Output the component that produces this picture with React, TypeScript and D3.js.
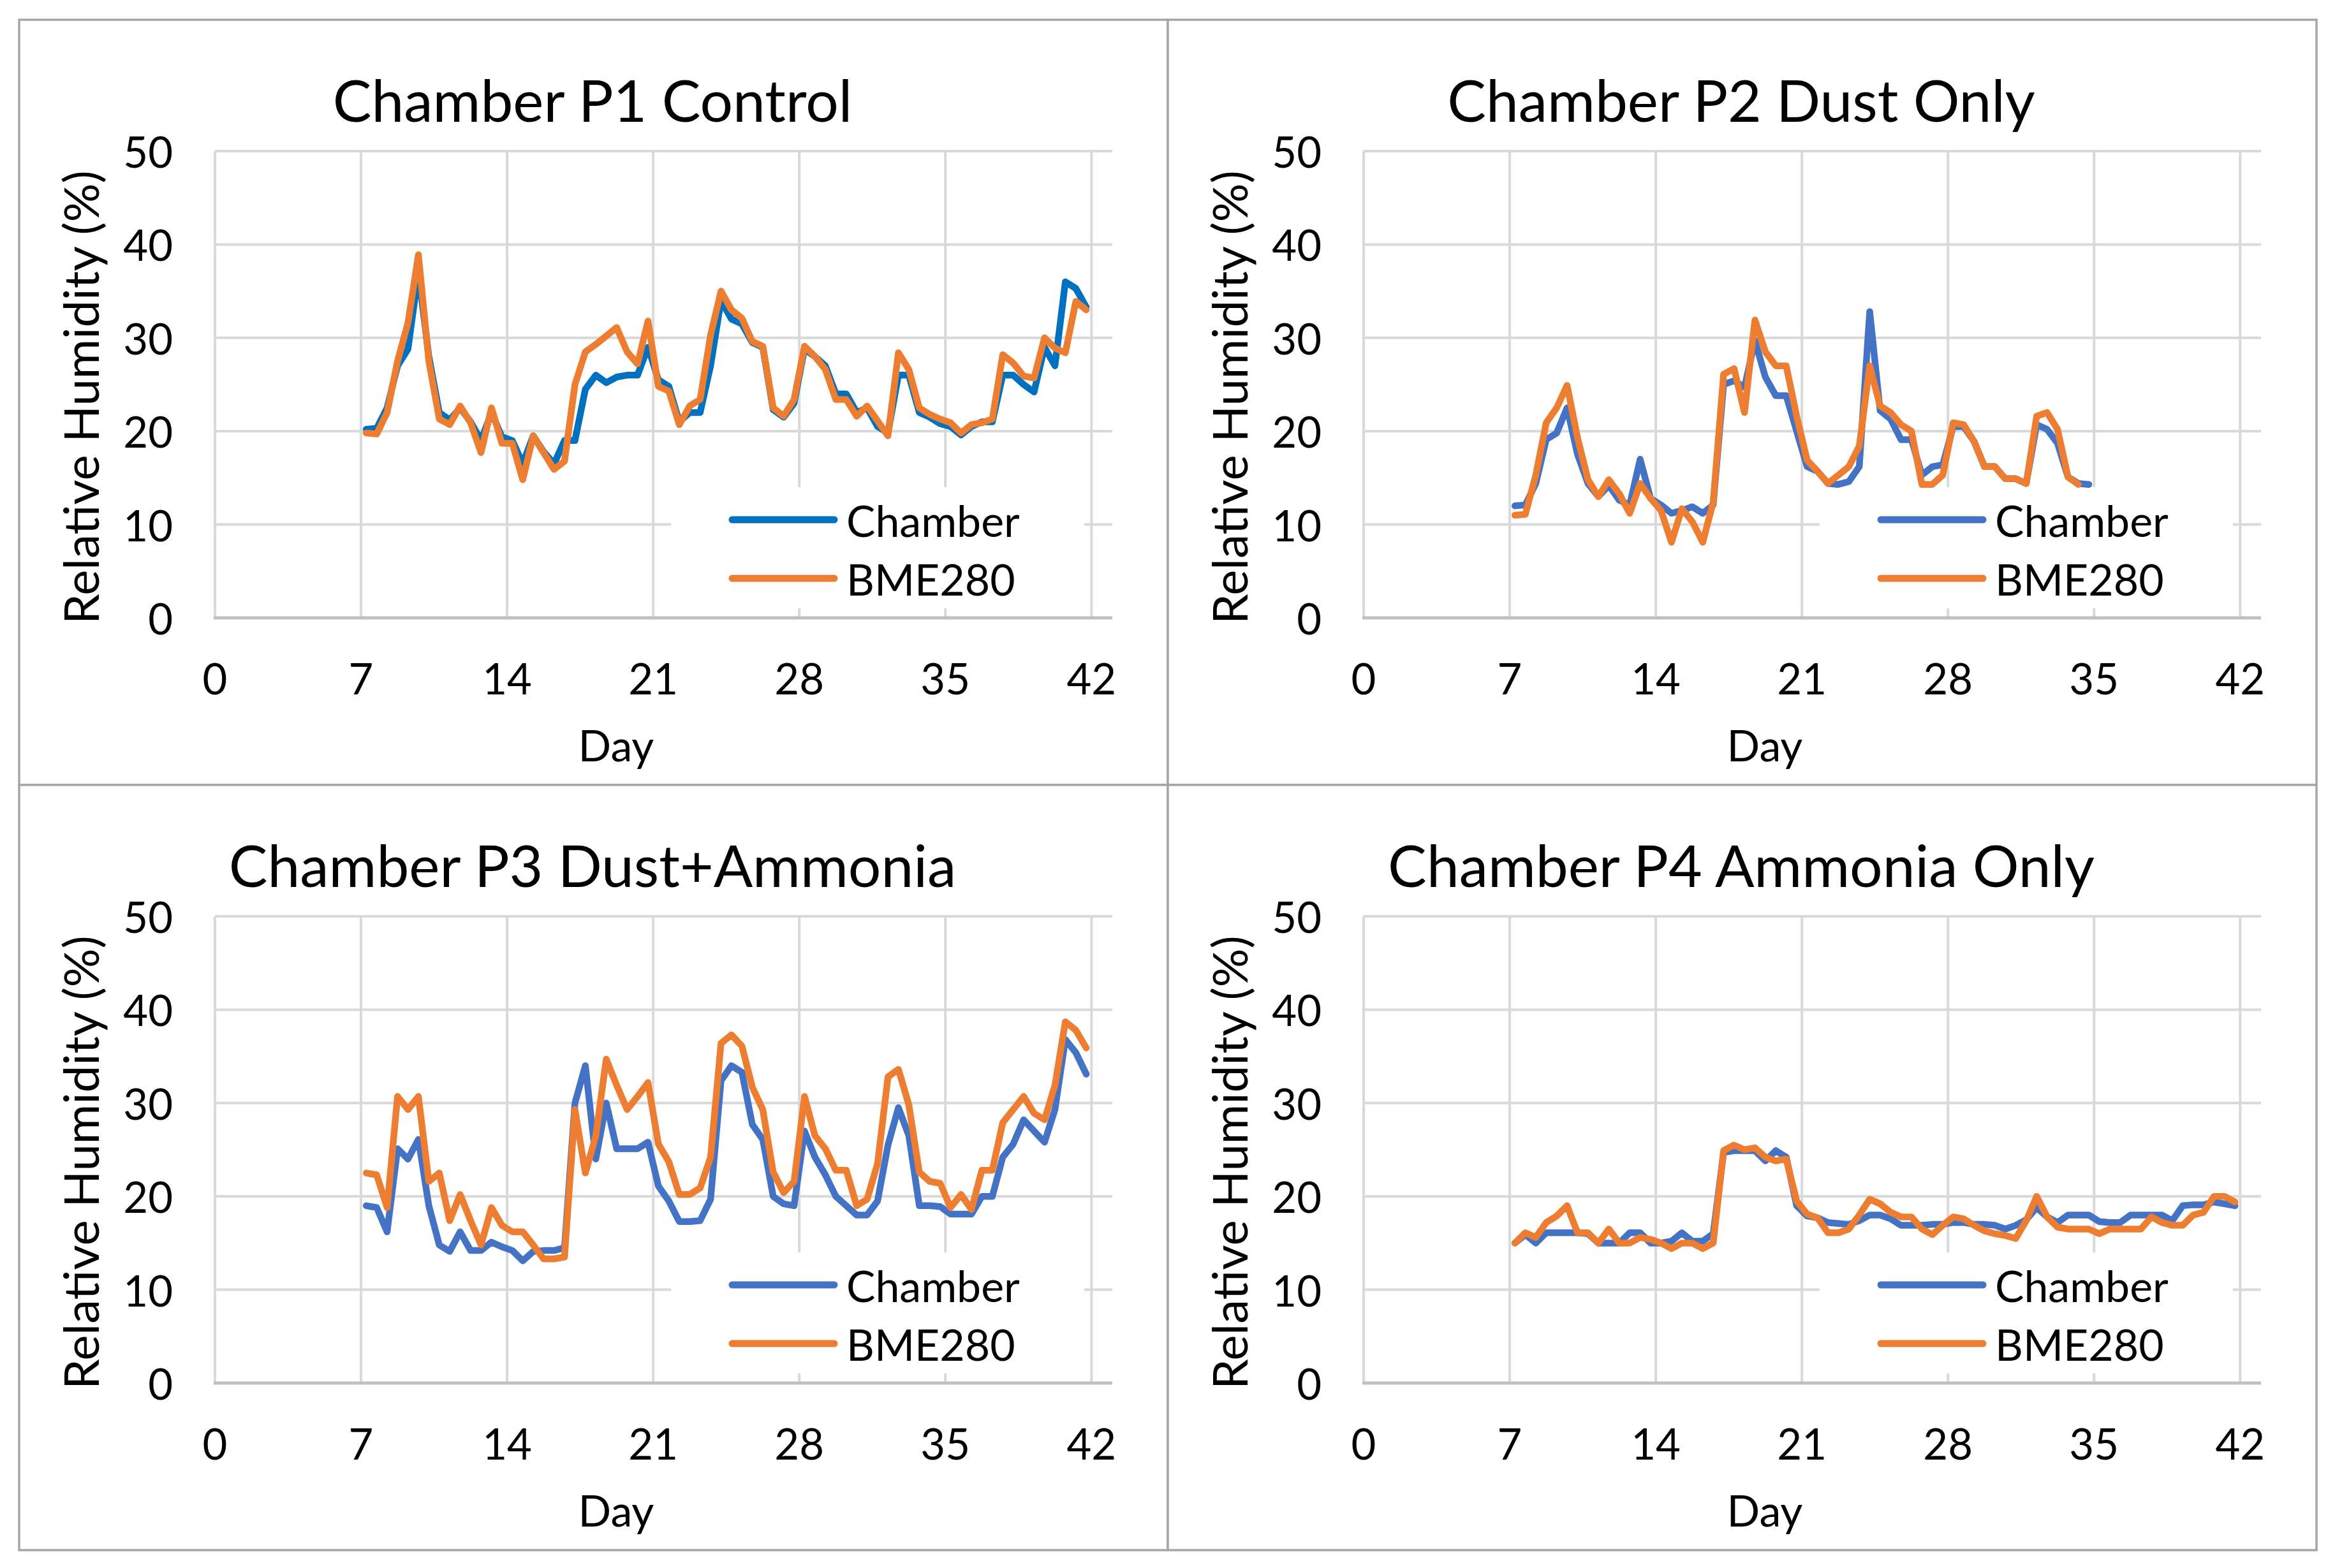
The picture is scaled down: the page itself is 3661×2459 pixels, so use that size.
import { useEffect, useRef } from 'react';
import * as d3 from 'd3';

// sample times (days), every 12 h
const days = [
  7.25, 7.75, 8.25, 8.75, 9.25, 9.75, 10.25, 10.75, 11.25, 11.75,
  12.25, 12.75, 13.25, 13.75, 14.25, 14.75, 15.25, 15.75, 16.25, 16.75,
  17.25, 17.75, 18.25, 18.75, 19.25, 19.75, 20.25, 20.75, 21.25, 21.75,
  22.25, 22.75, 23.25, 23.75, 24.25, 24.75, 25.25, 25.75, 26.25, 26.75,
  27.25, 27.75, 28.25, 28.75, 29.25, 29.75, 30.25, 30.75, 31.25, 31.75,
  32.25, 32.75, 33.25, 33.75, 34.25, 34.75, 35.25, 35.75, 36.25, 36.75,
  37.25, 37.75, 38.25, 38.75, 39.25, 39.75, 40.25, 40.75, 41.25, 41.75,
];

const p1Chamber = [
  20.2, 20.3, 22.5, 27.0, 28.8, 37.0, 28.0, 22.0, 21.2, 22.5,
  21.0, 19.0, 22.0, 19.4, 19.0, 16.5, 19.5, 17.8, 16.5, 19.0,
  19.0, 24.5, 26.0, 25.2, 25.8, 26.0, 26.0, 29.0, 25.5, 24.8,
  21.0, 22.0, 22.0, 27.0, 34.0, 32.0, 31.5, 29.5, 29.0, 22.3,
  21.5, 23.0, 28.8, 28.0, 27.0, 24.0, 24.0, 22.0, 22.5, 20.5,
  19.8, 26.0, 26.0, 22.0, 21.5, 20.8, 20.5, 19.6, 20.5, 21.0,
  21.0, 26.0, 26.0, 25.0, 24.2, 29.0, 27.0, 36.0, 35.3, 33.3,
];
const p1Bme = [
  19.8, 19.7, 22.0, 27.5, 31.6, 38.9, 27.5, 21.3, 20.7, 22.7,
  20.9, 17.7, 22.5, 18.7, 18.7, 14.8, 19.5, 17.7, 15.9, 16.8,
  25.0, 28.5, 29.3, 30.2, 31.1, 28.5, 27.2, 31.8, 24.8, 24.3,
  20.7, 22.7, 23.4, 30.3, 35.0, 33.0, 32.1, 29.6, 29.1, 22.5,
  21.6, 23.4, 29.1, 28.0, 26.6, 23.4, 23.4, 21.6, 22.7, 21.1,
  19.5, 28.4, 26.6, 22.5, 21.8, 21.3, 20.9, 19.8, 20.7, 20.9,
  21.3, 28.2, 27.3, 25.9, 25.7, 30.0, 28.9, 28.4, 33.9, 33.0,
];

const p2Chamber = [
  12.0, 12.1, 14.4, 19.1, 19.8, 22.5, 17.5, 14.4, 13.0, 14.2,
  12.6, 12.1, 17.0, 12.8, 12.1, 11.2, 11.5, 11.9, 11.2, 12.1,
  25.0, 25.4, 24.7, 29.7, 25.8, 23.8, 23.8, 20.0, 16.2, 15.7,
  14.4, 14.3, 14.6, 16.2, 32.8, 22.2, 21.3, 19.1, 19.1, 15.3,
  16.2, 16.4, 20.5, 20.5, 18.9, 16.2, 16.2, 14.9, 14.9, 14.4,
  20.7, 20.2, 18.7, 15.1, 14.4, 14.3,
];
const p2Bme = [
  11.0, 11.1, 15.3, 20.9, 22.5, 24.9, 19.3, 14.8, 13.0, 14.8,
  13.3, 11.2, 14.4, 12.8, 11.5, 8.1, 11.7, 10.3, 8.1, 12.4,
  26.1, 26.7, 22.0, 31.9, 28.5, 27.0, 27.0, 21.6, 16.9, 15.7,
  14.4, 15.3, 16.2, 18.4, 27.0, 22.7, 22.0, 20.7, 20.0, 14.3,
  14.3, 15.3, 20.9, 20.7, 18.9, 16.2, 16.2, 14.9, 14.9, 14.4,
  21.6, 22.0, 20.2, 15.1, 14.3,
];

const p3Chamber = [
  19.0, 18.8, 16.2, 25.1, 24.0, 26.1, 19.0, 14.8, 14.1, 16.2,
  14.2, 14.2, 15.1, 14.6, 14.2, 13.1, 14.1, 14.2, 14.2, 14.5,
  30.0, 34.0, 24.0, 30.0, 25.1, 25.1, 25.1, 25.8, 21.1, 19.5,
  17.3, 17.3, 17.4, 19.7, 32.4, 34.0, 33.3, 27.7, 26.1, 20.0,
  19.2, 19.0, 27.0, 24.2, 22.3, 20.0, 19.0, 18.0, 18.0, 19.5,
  25.5, 29.5, 26.5, 19.0, 19.0, 18.9, 18.1, 18.1, 18.1, 20.0,
  20.0, 24.2, 25.6, 28.2, 27.0, 25.8, 29.3, 36.8, 35.4, 33.1,
];
const p3Bme = [
  22.5, 22.3, 18.8, 30.7, 29.3, 30.7, 21.6, 22.5, 17.4, 20.2,
  17.4, 14.8, 18.8, 16.9, 16.2, 16.2, 14.8, 13.3, 13.3, 13.5,
  29.3, 22.5, 26.5, 34.7, 31.9, 29.3, 30.7, 32.2, 25.6, 23.7,
  20.2, 20.2, 20.9, 24.2, 36.4, 37.3, 36.1, 31.7, 29.3, 22.6,
  20.4, 21.6, 30.7, 26.5, 25.1, 22.8, 22.8, 19.0, 19.7, 23.5,
  32.8, 33.6, 29.8, 22.6, 21.6, 21.4, 18.8, 20.2, 18.6, 22.8,
  22.8, 27.9, 29.3, 30.7, 28.9, 28.2, 31.9, 38.7, 37.8, 35.9,
];

const p4Chamber = [
  15.0, 15.9, 15.0, 16.1, 16.1, 16.1, 16.1, 16.0, 15.0, 15.0,
  15.0, 16.1, 16.1, 15.0, 15.0, 15.2, 16.1, 15.2, 15.2, 16.0,
  24.7, 24.9, 24.9, 24.9, 23.8, 24.9, 24.2, 19.0, 17.9, 17.7,
  17.2, 17.1, 17.0, 17.4, 18.0, 18.0, 17.6, 16.9, 16.9, 16.9,
  17.0, 17.0, 17.2, 17.2, 17.0, 17.0, 16.9, 16.5, 16.9, 17.5,
  18.8, 17.8, 17.2, 18.0, 18.0, 18.0, 17.3, 17.2, 17.2, 18.0,
  18.0, 18.0, 18.0, 17.4, 19.0, 19.1, 19.1, 19.4, 19.2, 19.0,
];
const p4Bme = [
  15.0, 16.1, 15.6, 17.2, 17.9, 19.0, 16.1, 16.1, 15.0, 16.5,
  15.0, 15.0, 15.6, 15.4, 15.0, 14.4, 15.0, 15.0, 14.4, 15.0,
  24.9, 25.5, 25.0, 25.2, 24.2, 23.8, 24.0, 19.5, 18.1, 17.7,
  16.1, 16.1, 16.5, 18.0, 19.7, 19.2, 18.3, 17.8, 17.8, 16.5,
  15.9, 16.9, 17.8, 17.6, 16.9, 16.3, 16.0, 15.8, 15.5, 17.4,
  20.0, 17.8, 16.7, 16.5, 16.5, 16.5, 16.0, 16.5, 16.5, 16.5,
  16.5, 17.8, 17.2, 16.9, 16.9, 18.0, 18.3, 20.0, 20.0, 19.4,
];

const titles = [
  'Chamber P1 Control',
  'Chamber P2 Dust Only',
  'Chamber P3 Dust+Ammonia',
  'Chamber P4 Ammonia Only',
];
const chamberSeries = [p1Chamber, p2Chamber, p3Chamber, p4Chamber];
const bmeSeries = [p1Bme, p2Bme, p3Bme, p4Bme];
const seriesNames = ['Chamber', 'BME280'];
const dayTicks = [0, 7, 14, 21, 28, 35, 42];
const rhTicks = [0, 10, 20, 30, 40, 50];

const W = 3661;
const H = 2459;
const FONT = "Lato, 'Open Sans', sans-serif";

function Chart() {
  const svgRef = useRef<SVGSVGElement | null>(null);

  useEffect(() => {
    if (!svgRef.current) return;
    document.body.style.margin = '0';
    document.body.style.overflow = 'hidden';

    const svg = d3.select(svgRef.current);
    svg.selectAll('*').remove();

    svg.append('rect').attr('width', W).attr('height', H).attr('fill', '#fff');

    const panelW = 1801;
    const panelH = 1200;
    const plot = { left: 307, top: 206, right: 1714, bottom: 938 };
    const orange = '#ED7D31';
    const blues = ['#0070C0', '#4472C4', '#4472C4', '#4472C4'];

    const x = d3.scaleLinear().domain([0, 43]).range([plot.left, plot.right]);
    const y = d3.scaleLinear().domain([0, 50]).range([plot.bottom, plot.top]);

    titles.forEach((title, i) => {
      const col = i % 2;
      const row = Math.floor(i / 2);
      const g = svg
        .append('g')
        .attr('transform', `translate(${30 + col * panelW},${31 + row * panelH})`);

      g.append('rect')
        .attr('width', panelW)
        .attr('height', panelH)
        .attr('fill', '#fff')
        .attr('stroke', '#a6a6a6')
        .attr('stroke-width', 3.5);

      // gridlines
      g.append('g')
        .selectAll('line')
        .data(rhTicks.slice(1))
        .join('line')
        .attr('x1', x(0))
        .attr('x2', x(43))
        .attr('y1', d => y(d))
        .attr('y2', d => y(d))
        .attr('stroke', '#d9d9d9')
        .attr('stroke-width', 4);

      g.append('g')
        .selectAll('line')
        .data(dayTicks)
        .join('line')
        .attr('x1', d => x(d))
        .attr('x2', d => x(d))
        .attr('y1', y(0))
        .attr('y2', y(50))
        .attr('stroke', '#d9d9d9')
        .attr('stroke-width', 4);

      g.append('line')
        .attr('x1', x(0) - 2)
        .attr('x2', x(43))
        .attr('y1', y(0))
        .attr('y2', y(0))
        .attr('stroke', '#bfbfbf')
        .attr('stroke-width', 5);

      // legend box hides the gridlines behind it
      const lg = g.append('g');
      lg.append('rect')
        .attr('x', 1022)
        .attr('y', 733)
        .attr('width', 648)
        .attr('height', 190)
        .attr('fill', '#fff');

      // data lines
      const line = d3
        .line<number>()
        .x((_, k) => x(days[k]))
        .y(d => y(d));

      [chamberSeries[i], bmeSeries[i]].forEach((vals, s) => {
        g.append('path')
          .datum(vals)
          .attr('d', line)
          .attr('fill', 'none')
          .attr('stroke', s === 0 ? blues[i] : orange)
          .attr('stroke-width', 10.5)
          .attr('stroke-linejoin', 'round')
          .attr('stroke-linecap', 'round');
      });

      seriesNames.forEach((name, s) => {
        const ly = 784 + s * 92;
        lg.append('line')
          .attr('x1', 1118)
          .attr('x2', 1278)
          .attr('y1', ly)
          .attr('y2', ly)
          .attr('stroke', s === 0 ? blues[i] : orange)
          .attr('stroke-width', 11)
          .attr('stroke-linecap', 'round');
        lg.append('text')
          .attr('x', 1297)
          .attr('y', ly)
          .attr('dominant-baseline', 'central')
          .attr('font-family', FONT)
          .attr('font-size', 68)
          .attr('fill', '#000')
          .text(name);
      });

      // tick labels
      g.append('g')
        .selectAll('text')
        .data(rhTicks)
        .join('text')
        .attr('x', 241)
        .attr('y', d => y(d))
        .attr('text-anchor', 'end')
        .attr('dominant-baseline', 'central')
        .attr('font-family', FONT)
        .attr('font-size', 67)
        .attr('fill', '#000')
        .text(d => d);

      g.append('g')
        .selectAll('text')
        .data(dayTicks)
        .join('text')
        .attr('x', d => x(d))
        .attr('y', 1058)
        .attr('text-anchor', 'middle')
        .attr('font-family', FONT)
        .attr('font-size', 67)
        .attr('fill', '#000')
        .text(d => d);

      // titles
      g.append('text')
        .attr('x', 899)
        .attr('y', 160)
        .attr('text-anchor', 'middle')
        .attr('font-family', FONT)
        .attr('font-size', 91)
        .attr('fill', '#000')
        .text(title);

      g.append('text')
        .attr('x', 936)
        .attr('y', 1163)
        .attr('text-anchor', 'middle')
        .attr('font-family', FONT)
        .attr('font-size', 68)
        .attr('fill', '#000')
        .text('Day');

      g.append('text')
        .attr('transform', 'translate(95,592) rotate(-90)')
        .attr('text-anchor', 'middle')
        .attr('dominant-baseline', 'central')
        .attr('font-family', FONT)
        .attr('font-size', 76)
        .attr('fill', '#000')
        .text('Relative Humidity (%)');
    });
  }, []);

  return <svg ref={svgRef} width={W} height={H} style={{ display: 'block' }}></svg>;
}

export default function App() {
  return <Chart />;
}
